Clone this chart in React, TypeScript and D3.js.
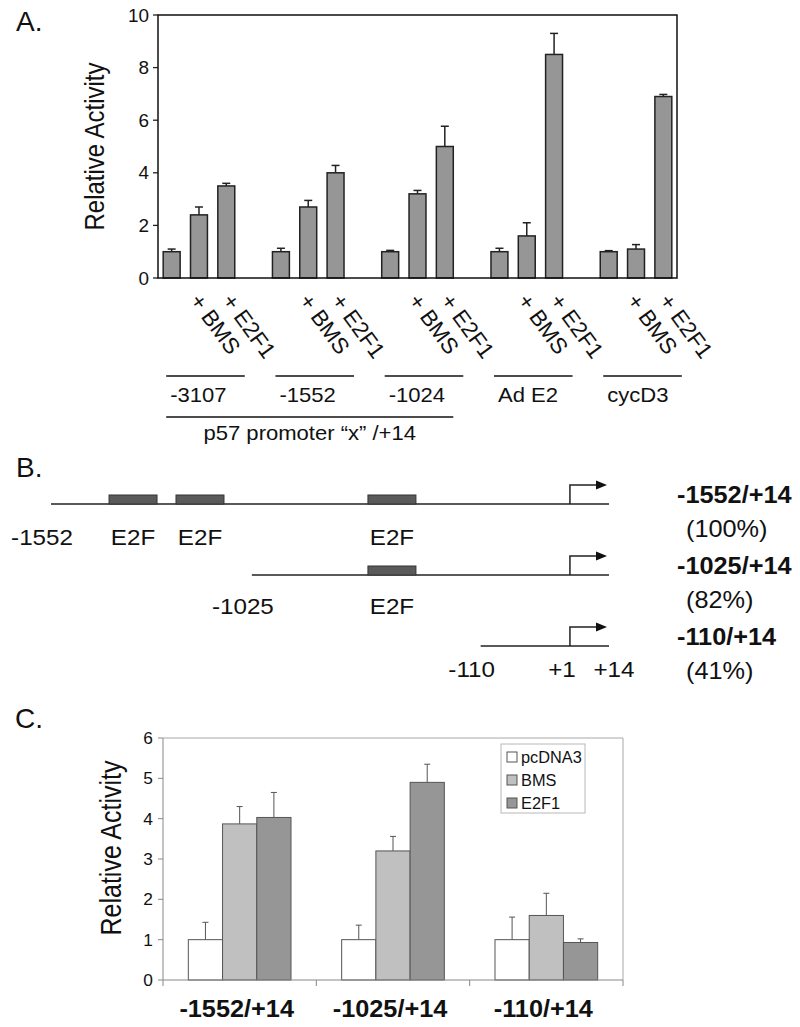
import React from 'react'
import * as d3 from 'd3'

// ---- panel A data ----
const groupsA = ['-3107', '-1552', '-1024', 'Ad E2', 'cycD3']
const treatA = ['', '+ BMS', '+ E2F1']
const valuesA = [
  [1.0, 2.4, 3.5],
  [1.0, 2.7, 4.0],
  [1.0, 3.2, 5.0],
  [1.0, 1.6, 8.5],
  [1.0, 1.1, 6.9],
]
const errA = [
  [0.1, 0.3, 0.1],
  [0.13, 0.25, 0.28],
  [0.05, 0.13, 0.77],
  [0.13, 0.5, 0.8],
  [0.04, 0.17, 0.08],
]
const yTicksA = [0, 2, 4, 6, 8, 10]
const bracketA = 'p57 promoter \u201cx\u201d /+14'

// ---- panel B data (schematic units 0..100) ----
const constructs = ['-1552/+14', '-1025/+14', '-110/+14']
const activity = ['(100%)', '(82%)', '(41%)']
const startLabels = ['-1552', '-1025', '-110']
const lineStarts = [0, 36, 77]
const e2fSites = [[10.4, 22.4, 56.8], [56.8], []]
const siteWidth = 8.6
const tssPos = 93

// ---- panel C data ----
const groupsC = ['-1552/+14', '-1025/+14', '-110/+14']
const seriesC = ['pcDNA3', 'BMS', 'E2F1']
const valuesC = [
  [1.0, 3.87, 4.03],
  [1.0, 3.2, 4.9],
  [1.0, 1.6, 0.93],
]
const errC = [
  [0.43, 0.43, 0.62],
  [0.36, 0.36, 0.45],
  [0.56, 0.55, 0.09],
]
const yTicksC = [0, 1, 2, 3, 4, 5, 6]
const colorsC = ['#ffffff', '#c0c0c0', '#969696']

const FONT = "'Liberation Sans', Arial, Helvetica, sans-serif"

function T({
  x,
  y,
  size,
  children,
  anchor = 'start',
  weight = 'normal',
  sx = 1.1,
  rotate = 0,
}: {
  x: number
  y: number
  size: number
  children: React.ReactNode
  anchor?: string
  weight?: string
  sx?: number
  rotate?: number
}) {
  return (
    <text
      transform={`translate(${x},${y}) scale(${sx},1)${rotate ? ` rotate(${rotate})` : ''}`}
      fontSize={size}
      textAnchor={anchor}
      fontWeight={weight}
      fontFamily={FONT}
      fill="#111"
    >
      {children}
    </text>
  )
}

function PanelA() {
  const left = 158
  const right = 677
  const top = 15
  const bottom = 278
  const nSlots = groupsA.length * 4 - 1
  const x = d3
    .scaleBand<number>()
    .domain(d3.range(nSlots))
    .range([left, right])
    .paddingInner(0.38)
    .paddingOuter(0.19)
  const y = d3.scaleLinear().domain([0, 10]).range([bottom, top])
  const bw = x.bandwidth()
  const slot = (g: number, k: number) => g * 4 + k

  return (
    <g>
      <T x={16} y={31} size={28} sx={1}>A.</T>
      {/* y ticks */}
      {yTicksA.map((t) => (
        <g key={t}>
          <line x1={left - 5} x2={left} y1={y(t)} y2={y(t)} stroke="#222" strokeWidth={1.3} />
          <T x={left - 9} y={y(t) + 6.5} size={18} anchor="end" sx={1.05}>
            {t}
          </T>
        </g>
      ))}
      <T x={104} y={(top + bottom) / 2} size={24} anchor="middle" rotate={-90} sx={1.15}>
        Relative Activity
      </T>
      {/* bars */}
      {valuesA.map((vals, g) =>
        vals.map((v, k) => {
          const bx = x(slot(g, k))!
          const cx = bx + bw / 2
          const eTop = y(v + errA[g][k])
          return (
            <g key={`${g}-${k}`}>
              <line x1={cx} x2={cx} y1={y(v)} y2={eTop} stroke="#222" strokeWidth={1.5} />
              <line x1={cx - 4} x2={cx + 4} y1={eTop} y2={eTop} stroke="#222" strokeWidth={1.5} />
              <rect
                x={bx}
                y={y(v)}
                width={bw}
                height={y(0) - y(v)}
                fill="#969696"
                stroke="#222"
                strokeWidth={1.5}
              />
            </g>
          )
        }),
      )}
      {/* frame */}
      <rect x={left} y={top} width={right - left} height={bottom - top} fill="none" stroke="#111" strokeWidth={1.5} />
      {/* rotated treatment labels */}
      {groupsA.map((_, g) =>
        treatA.map((lab, k) => {
          if (!lab) return null
          const cx = x(slot(g, k))! + bw / 2
          const dx = k === 1 ? -10 : -5
          return (
            <T key={`${g}-${k}`} x={cx + dx} y={301} size={22.5} sx={1} rotate={54}>
              {lab}
            </T>
          )
        }),
      )}
      {/* group underlines and labels */}
      {groupsA.map((lab, g) => {
        const x0 = x(slot(g, 0))! + 3
        const x1 = x(slot(g, 2))! + bw + 10
        return (
          <g key={lab}>
            <line x1={x0} x2={x1} y1={376} y2={376} stroke="#111" strokeWidth={1.5} />
            <T x={x0 + 4} y={402} size={21} sx={1.05}>
              {lab}
            </T>
          </g>
        )
      })}
      {(() => {
        const x0 = x(slot(0, 0))! + 3
        const x1 = x(slot(2, 2))! + bw
        return (
          <g>
            <line x1={x0} x2={x1} y1={417} y2={417} stroke="#111" strokeWidth={1.5} />
            <T x={(x0 + x1) / 2} y={440} size={21} anchor="middle" sx={1.05}>
              {bracketA}
            </T>
          </g>
        )
      })()}
    </g>
  )
}

function PanelB() {
  const bx = d3.scaleLinear().domain([0, 100]).range([51, 609])
  const rowY = d3.scalePoint<string>().domain(constructs).range([504, 646])
  const labelDy = [41, 39, 31]

  return (
    <g>
      <T x={16} y={477} size={28} sx={1}>B.</T>
      {constructs.map((c, i) => {
        const ly = rowY(c)!
        const ax = bx(tssPos)
        const ay = ly - 19
        const tip = bx(100) - 2
        const lb = ly + labelDy[i]
        return (
          <g key={c}>
            <line x1={bx(lineStarts[i])} x2={bx(100)} y1={ly} y2={ly} stroke="#222" strokeWidth={1.5} />
            {e2fSites[i].map((s) => (
              <g key={s}>
                <rect
                  x={bx(s)}
                  y={ly - 9}
                  width={bx(s + siteWidth) - bx(s)}
                  height={9}
                  fill="#5a5a5a"
                  stroke="#333"
                  strokeWidth={1}
                />
                <T x={bx(s + siteWidth / 2)} y={lb} size={22} anchor="middle">
                  E2F
                </T>
              </g>
            ))}
            <polyline
              points={`${ax},${ly} ${ax},${ay} ${tip - 9},${ay}`}
              fill="none"
              stroke="#222"
              strokeWidth={1.5}
            />
            <path d={`M${tip - 11},${ay - 4.5} L${tip},${ay} L${tip - 11},${ay + 4.5} Z`} fill="#111" />
            <T x={bx(lineStarts[i]) - 9} y={lb} size={22} anchor="middle">
              {startLabels[i]}
            </T>
            {i === constructs.length - 1 && (
              <>
                <T x={ax - 8} y={lb} size={22} anchor="middle">
                  +1
                </T>
                <T x={bx(100) + 5} y={lb} size={22} anchor="middle">
                  +14
                </T>
              </>
            )}
            <T x={677} y={ly - 1} size={23} weight="bold">
              {c}
            </T>
            <T x={686} y={ly + 33} size={23}>
              {activity[i]}
            </T>
          </g>
        )
      })}
    </g>
  )
}

function PanelC() {
  const left = 163
  const right = 623
  const top = 738
  const bottom = 980
  const x = d3.scaleBand<string>().domain(groupsC).range([left, right])
  const xi = d3
    .scaleBand<string>()
    .domain(seriesC)
    .range([0, x.bandwidth()])
    .paddingInner(0)
    .paddingOuter(0.74)
  const y = d3.scaleLinear().domain([0, 6]).range([bottom, top])
  const legendRow = d3.scalePoint<string>().domain(seriesC).range([757, 803])

  return (
    <g>
      <T x={15} y={728} size={28} sx={1}>C.</T>
      {/* frame */}
      <line x1={left} x2={right} y1={top} y2={top} stroke="#a8a8a8" strokeWidth={1} />
      <line x1={right} x2={right} y1={top} y2={bottom} stroke="#a8a8a8" strokeWidth={1} />
      {/* bars */}
      {groupsC.map((gname, g) =>
        seriesC.map((s, k) => {
          const v = valuesC[g][k]
          const bx0 = x(gname)! + xi(s)!
          const cx = bx0 + xi.bandwidth() / 2
          const eTop = y(v + errC[g][k])
          return (
            <g key={`${g}-${k}`}>
              <line x1={cx} x2={cx} y1={y(v)} y2={eTop} stroke="#555" strokeWidth={1} />
              <line x1={cx - 3} x2={cx + 3} y1={eTop} y2={eTop} stroke="#555" strokeWidth={1} />
              <rect
                x={bx0}
                y={y(v)}
                width={xi.bandwidth()}
                height={y(0) - y(v)}
                fill={colorsC[k]}
                stroke="#555"
                strokeWidth={1}
              />
            </g>
          )
        }),
      )}
      {/* axes */}
      <line x1={left} x2={left} y1={top} y2={bottom + 6} stroke="#888" strokeWidth={1} />
      <line x1={left} x2={right} y1={bottom} y2={bottom} stroke="#888" strokeWidth={1} />
      {groupsC.map((gname) => (
        <line
          key={gname}
          x1={x(gname)! + x.bandwidth()}
          x2={x(gname)! + x.bandwidth()}
          y1={bottom}
          y2={bottom + 6}
          stroke="#888"
          strokeWidth={1}
        />
      ))}
      {yTicksC.map((t) => (
        <g key={t}>
          <line x1={left - 5} x2={left} y1={y(t)} y2={y(t)} stroke="#888" strokeWidth={1} />
          <T x={left - 10} y={y(t) + 6} size={16.5} anchor="end" sx={1.05}>
            {t}
          </T>
        </g>
      ))}
      <T x={121} y={848} size={25} anchor="middle" rotate={-90} sx={1.15}>
        Relative Activity
      </T>
      {groupsC.map((gname) => (
        <T key={gname} x={x(gname)! + x.bandwidth() / 2 - 3} y={1017} size={23} weight="bold" anchor="middle">
          {gname}
        </T>
      ))}
      {/* legend */}
      <rect x={501} y={744} width={84} height={69} fill="#fff" stroke="#b8b8b8" strokeWidth={1} />
      {seriesC.map((s, k) => {
        const ry = legendRow(s)!
        return (
          <g key={s}>
            <rect x={507} y={ry - 5} width={10} height={10} fill={colorsC[k]} stroke="#555" strokeWidth={1} />
            <T x={521} y={ry + 6} size={16} sx={1.02}>
              {s}
            </T>
          </g>
        )
      })}
    </g>
  )
}

export default function App() {
  return (
    <svg
      width={800}
      height={1027}
      viewBox="0 0 800 1027"
      style={{ position: 'absolute', left: 0, top: 0, background: '#fff' }}
    >
      <rect width={800} height={1027} fill="#fff" />
      <PanelA />
      <PanelB />
      <PanelC />
    </svg>
  )
}
